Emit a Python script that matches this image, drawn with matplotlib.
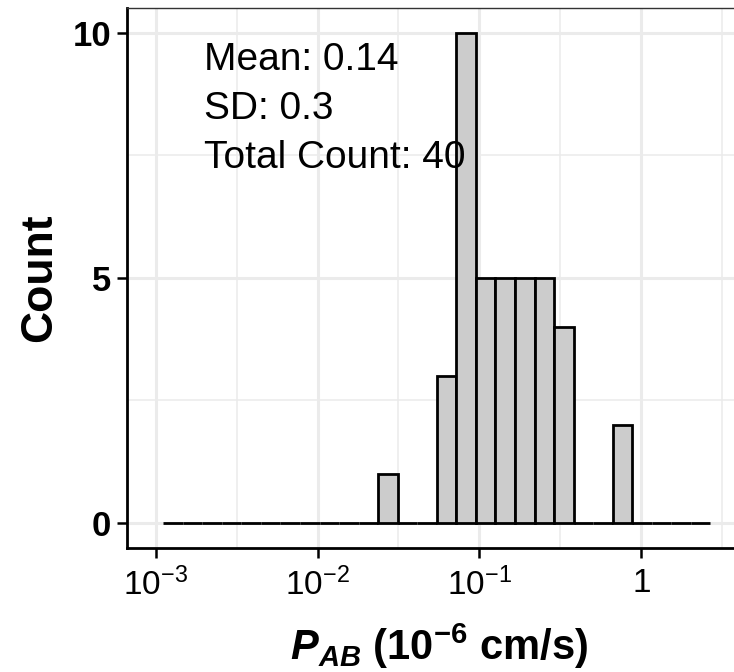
import numpy as np
import matplotlib
matplotlib.use("Agg")
import matplotlib.pyplot as plt
from matplotlib.ticker import FixedLocator, NullFormatter

plt.rcParams['font.family'] = 'Liberation Sans'
plt.rcParams['mathtext.fontset'] = 'custom'
plt.rcParams['mathtext.rm'] = 'Liberation Sans'
plt.rcParams['mathtext.it'] = 'Liberation Sans:italic'
plt.rcParams['mathtext.bf'] = 'Liberation Sans:bold'
plt.rcParams['mathtext.bfit'] = 'Liberation Sans:italic:bold'

# Histogram of P_AB, 28 equal bins in log10 space
log_lo, log_hi = -2.953, 0.427
counts = [0, 0, 0, 0, 0, 0, 0, 0, 0, 0, 0,
          1, 0, 0, 3, 10, 5, 5, 5, 5, 4, 0, 0, 2,
          0, 0, 0, 0]

stats_lines = ["Mean: 0.14", "SD: 0.3", "Total Count: 40"]
x_ticks = [1e-3, 1e-2, 1e-1, 1]
x_tick_labels = [r'$10^{-3}$', r'$10^{-2}$', r'$10^{-1}$', '1']
x_minor = [10**-2.5, 10**-1.5, 10**-0.5, 10**0.5]
y_ticks = [0, 5, 10]
y_minor = [2.5, 7.5]

edges = np.logspace(log_lo, log_hi, len(counts) + 1)

fig = plt.figure(figsize=(7.34, 6.72), dpi=100)
# panel runs past the right edge of the canvas
ax = fig.add_axes([127.3 / 734, (672 - 547.5) / 672,
                   (750.6 - 127.3) / 734, (547.5 - 8) / 672])

ax.bar(edges[:-1], counts, width=np.diff(edges), align='edge',
       color='#CCCCCC', edgecolor='black', linewidth=2.0, zorder=2)

ax.set_xscale('log')
ax.set_xlim(10**-3.175, 10**0.675)
ax.set_ylim(-0.5, 10.5)

ax.set_xticks(x_ticks, labels=x_tick_labels, fontsize=24)
ax.xaxis.set_minor_locator(FixedLocator(x_minor))
ax.xaxis.set_minor_formatter(NullFormatter())
ax.set_yticks(y_ticks, labels=[str(t) for t in y_ticks], fontsize=25,
              fontweight='bold')
ax.yaxis.set_minor_locator(FixedLocator(y_minor))

ax.tick_params(which='major', length=7.5, width=1.8, color='black',
               labelcolor='black')
ax.tick_params(axis='y', which='major', pad=4)
ax.tick_params(axis='x', which='major', pad=7)
ax.tick_params(which='minor', length=0)

ax.set_axisbelow(True)
ax.grid(which='major', color='#EBEBEB', linewidth=2.2)
ax.grid(which='minor', color='#EBEBEB', linewidth=1.1)

for side in ['left', 'bottom']:
    ax.spines[side].set_linewidth(2.0)
    ax.spines[side].set_color('black')
for side in ['top', 'right']:
    ax.spines[side].set_linewidth(1.0)
    ax.spines[side].set_color('#333333')

for s, y in zip(stats_lines, [9.24, 8.23, 7.245]):
    ax.text(10**-2.70, y, s, fontsize=28, ha='left', va='baseline', zorder=3)

ax.set_ylabel('Count', fontsize=32, fontweight='bold')
ax.yaxis.set_label_coords(-0.108, 0.5)
ax.set_xlabel(r'$\mathbfit{P}_{\mathbfit{AB}}$ (10$^{\mathbf{-6}}$ cm/s)',
              fontsize=30, fontweight='bold')
ax.xaxis.set_label_coords(0.5, -0.138)

fig.savefig('out.png', dpi=100)
